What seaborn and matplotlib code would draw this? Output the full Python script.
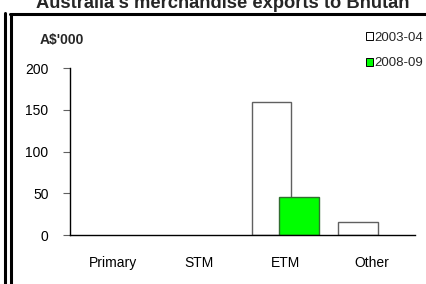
import matplotlib
matplotlib.use("Agg")
import matplotlib.pyplot as plt
import seaborn as sns
import pandas as pd
from matplotlib.lines import Line2D
from matplotlib.patches import Patch

categories = ["Primary", "STM", "ETM", "Other"]
series_names = ["2003-04", "2008-09"]
values_2003 = [0, 0, 159, 15]
values_2008 = [0, 0, 45, 0]
yticks = [0, 50, 100, 150, 200]
title = "Australia's merchandise exports to Bhutan"
unit_label = "A$'000"

sns.set_theme(style="white")
plt.rcParams["font.family"] = ["Liberation Sans", "DejaVu Sans"]

fig = plt.figure(figsize=(4.27, 2.84), dpi=100)
ax = fig.add_axes([0.164, 0.1725, 0.808, 0.588])

df1 = pd.DataFrame({"cat": categories, "val": values_2003})
df2 = pd.DataFrame({"cat": categories, "val": values_2008})

sns.barplot(data=df1, x="cat", y="val", order=categories, color="white",
            edgecolor="#606060", linewidth=1.0, width=0.46, ax=ax, saturation=1)
n1 = len(ax.patches)
sns.barplot(data=df2, x="cat", y="val", order=categories, color="#00FF00",
            edgecolor="#2f6f2f", linewidth=1.0, width=0.46, ax=ax, saturation=1)
for i, p in enumerate(ax.patches):
    shift = -0.164 if i < n1 else 0.156
    p.set_x(p.get_x() + shift)
    if p.get_height() == 0:
        p.set_visible(False)

ax.set_xlim(-0.5, 3.5)
ax.set_ylim(0, 200)
ax.set_yticks(yticks)
ax.set_xlabel("")
ax.set_ylabel("")
for s in ["top", "right"]:
    ax.spines[s].set_visible(False)
for s in ["left", "bottom"]:
    ax.spines[s].set_color("black")
    ax.spines[s].set_linewidth(1.0)
ax.tick_params(axis="y", which="both", left=True, length=5, width=0.8,
               color="#606060", pad=10.5, labelsize=10, labelcolor="black")
ax.tick_params(axis="x", which="both", bottom=False, length=0, pad=15,
               labelsize=10, labelcolor="black")

fig.text(0.522, 1 - 8/284, title, ha="center", va="baseline", fontsize=13.2,
         fontweight="bold")
fig.text(0.094, 1 - 40/284, unit_label, ha="left", va="center", fontsize=10,
         fontweight="bold")

handles = [Patch(facecolor="white", edgecolor="black", linewidth=0.7),
           Patch(facecolor="#00FF00", edgecolor="black", linewidth=0.7)]
fig.legend(handles, series_names, loc="upper left",
           bbox_to_anchor=(366/427, 1 - 32/284),
           frameon=False, fontsize=9.5, handlelength=0.55, handleheight=0.55,
           handletextpad=0.1, labelspacing=1.0, borderpad=0, borderaxespad=0)

# frame lines
fig.add_artist(Line2D([5.5/427, 5.5/427], [1-13/284, 0], color="black", lw=2.2,
                      transform=fig.transFigure))
fig.add_artist(Line2D([11.5/427, 11.5/427], [1-14/284, 0], color="black", lw=2.2,
                      transform=fig.transFigure))
fig.add_artist(Line2D([10.5/427, 1], [1-14/284, 1-14/284], color="black", lw=2.2,
                      transform=fig.transFigure))

fig.savefig("out.png", dpi=100)
